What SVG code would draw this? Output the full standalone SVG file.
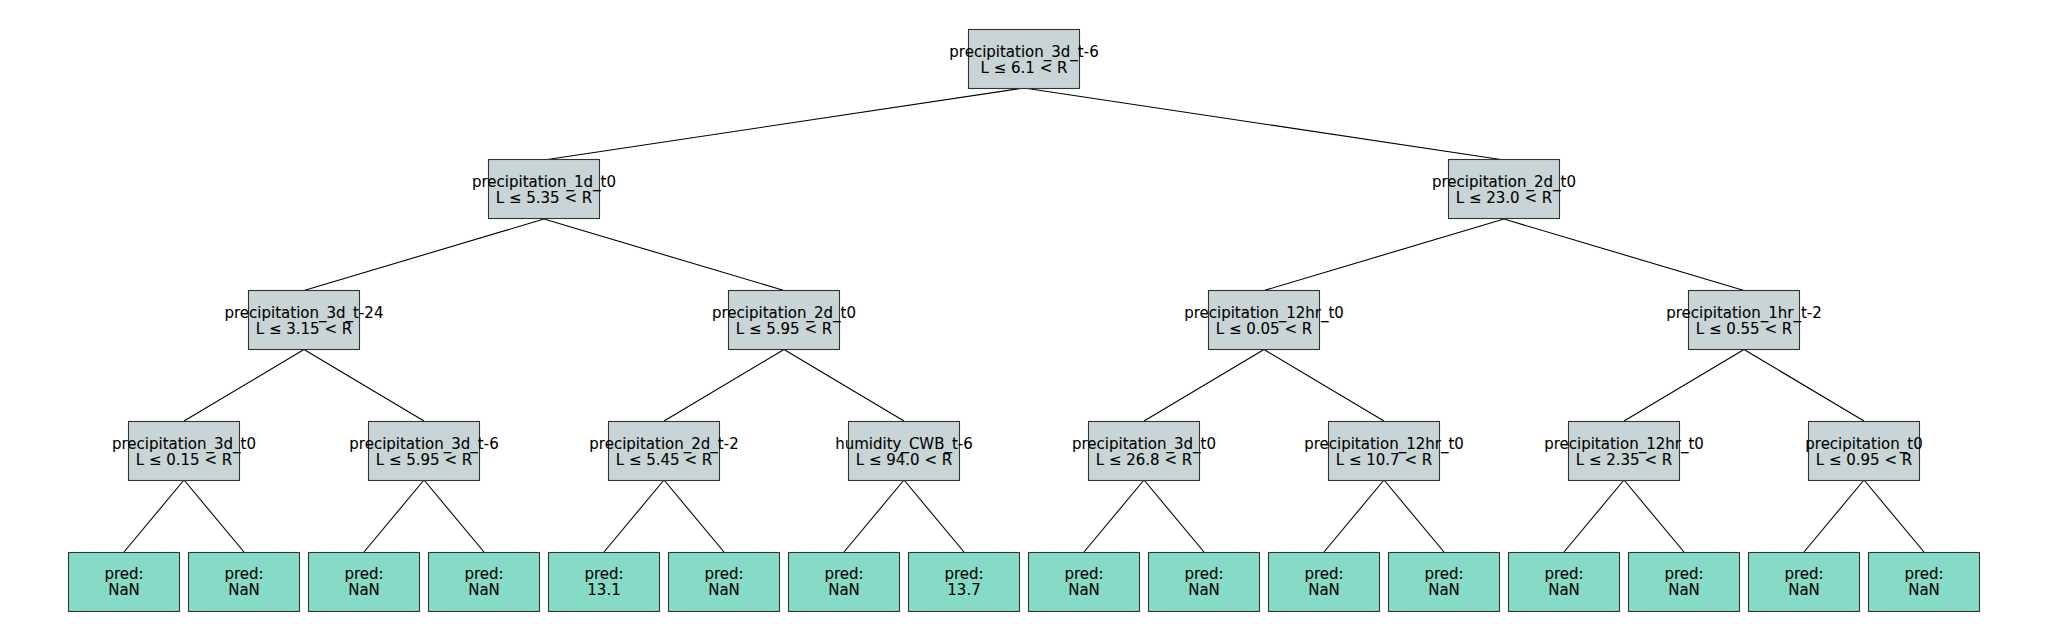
<svg xmlns="http://www.w3.org/2000/svg" width="2048" height="640" viewBox="0 0 2048 640">
<style>
.s{fill:#c8d4d5;stroke:#333;stroke-width:1.1}
.l{fill:#86dbc6;stroke:#333;stroke-width:1.1}
text{font-family:"DejaVu Sans",sans-serif;font-size:15px;fill:#000;stroke:#000;stroke-width:0.08;text-anchor:middle}
#edges line{stroke:#000;stroke-width:1.1}
</style>
<rect width="2048" height="640" fill="#fff"/>
<g id="edges">
<line x1="1024" y1="88" x2="544" y2="160"/>
<line x1="1024" y1="88" x2="1504" y2="160"/>
<line x1="544" y1="219" x2="304" y2="290.5"/>
<line x1="544" y1="219" x2="784" y2="290.5"/>
<line x1="1504" y1="219" x2="1264" y2="290.5"/>
<line x1="1504" y1="219" x2="1744" y2="290.5"/>
<line x1="304" y1="349.5" x2="184" y2="421"/>
<line x1="304" y1="349.5" x2="424" y2="421"/>
<line x1="784" y1="349.5" x2="664" y2="421"/>
<line x1="784" y1="349.5" x2="904" y2="421"/>
<line x1="1264" y1="349.5" x2="1144" y2="421"/>
<line x1="1264" y1="349.5" x2="1384" y2="421"/>
<line x1="1744" y1="349.5" x2="1624" y2="421"/>
<line x1="1744" y1="349.5" x2="1864" y2="421"/>
<line x1="184" y1="480" x2="124" y2="552"/>
<line x1="184" y1="480" x2="244" y2="552"/>
<line x1="424" y1="480" x2="364" y2="552"/>
<line x1="424" y1="480" x2="484" y2="552"/>
<line x1="664" y1="480" x2="604" y2="552"/>
<line x1="664" y1="480" x2="724" y2="552"/>
<line x1="904" y1="480" x2="844" y2="552"/>
<line x1="904" y1="480" x2="964" y2="552"/>
<line x1="1144" y1="480" x2="1084" y2="552"/>
<line x1="1144" y1="480" x2="1204" y2="552"/>
<line x1="1384" y1="480" x2="1324" y2="552"/>
<line x1="1384" y1="480" x2="1444" y2="552"/>
<line x1="1624" y1="480" x2="1564" y2="552"/>
<line x1="1624" y1="480" x2="1684" y2="552"/>
<line x1="1864" y1="480" x2="1804" y2="552"/>
<line x1="1864" y1="480" x2="1924" y2="552"/>
</g>
<g id="n0"><rect class="s" x="968.5" y="29.5" width="111" height="59"/><text x="1024" y="56.6">precipitation_3d_t-6</text><text x="1024" y="72.5">L ≤ 6.1 &lt; R</text></g>
<g id="n1"><rect class="s" x="488.5" y="159.5" width="111" height="59"/><text x="544" y="187.1">precipitation_1d_t0</text><text x="544" y="203">L ≤ 5.35 &lt; R</text></g>
<g id="n2"><rect class="s" x="1448.5" y="159.5" width="111" height="59"/><text x="1504" y="187.1">precipitation_2d_t0</text><text x="1504" y="203">L ≤ 23.0 &lt; R</text></g>
<g id="n3"><rect class="s" x="248.5" y="290.5" width="111" height="59"/><text x="304" y="317.8">precipitation_3d_t-24</text><text x="304" y="333.7">L ≤ 3.15 &lt; R</text></g>
<g id="n4"><rect class="s" x="728.5" y="290.5" width="111" height="59"/><text x="784" y="317.8">precipitation_2d_t0</text><text x="784" y="333.7">L ≤ 5.95 &lt; R</text></g>
<g id="n5"><rect class="s" x="1208.5" y="290.5" width="111" height="59"/><text x="1264" y="317.8">precipitation_12hr_t0</text><text x="1264" y="333.7">L ≤ 0.05 &lt; R</text></g>
<g id="n6"><rect class="s" x="1688.5" y="290.5" width="111" height="59"/><text x="1744" y="317.8">precipitation_1hr_t-2</text><text x="1744" y="333.7">L ≤ 0.55 &lt; R</text></g>
<g id="n7"><rect class="s" x="128.5" y="421.5" width="111" height="59"/><text x="184" y="448.6">precipitation_3d_t0</text><text x="184" y="464.5">L ≤ 0.15 &lt; R</text></g>
<g id="n8"><rect class="s" x="368.5" y="421.5" width="111" height="59"/><text x="424" y="448.6">precipitation_3d_t-6</text><text x="424" y="464.5">L ≤ 5.95 &lt; R</text></g>
<g id="n9"><rect class="s" x="608.5" y="421.5" width="111" height="59"/><text x="664" y="448.6">precipitation_2d_t-2</text><text x="664" y="464.5">L ≤ 5.45 &lt; R</text></g>
<g id="n10"><rect class="s" x="848.5" y="421.5" width="111" height="59"/><text x="904" y="448.6">humidity_CWB_t-6</text><text x="904" y="464.5">L ≤ 94.0 &lt; R</text></g>
<g id="n11"><rect class="s" x="1088.5" y="421.5" width="111" height="59"/><text x="1144" y="448.6">precipitation_3d_t0</text><text x="1144" y="464.5">L ≤ 26.8 &lt; R</text></g>
<g id="n12"><rect class="s" x="1328.5" y="421.5" width="111" height="59"/><text x="1384" y="448.6">precipitation_12hr_t0</text><text x="1384" y="464.5">L ≤ 10.7 &lt; R</text></g>
<g id="n13"><rect class="s" x="1568.5" y="421.5" width="111" height="59"/><text x="1624" y="448.6">precipitation_12hr_t0</text><text x="1624" y="464.5">L ≤ 2.35 &lt; R</text></g>
<g id="n14"><rect class="s" x="1808.5" y="421.5" width="111" height="59"/><text x="1864" y="448.6">precipitation_t0</text><text x="1864" y="464.5">L ≤ 0.95 &lt; R</text></g>
<g id="leaf0"><rect class="l" x="68.5" y="552.5" width="111" height="59"/><text x="124" y="579.2">pred:</text><text x="124" y="595">NaN</text></g>
<g id="leaf1"><rect class="l" x="188.5" y="552.5" width="111" height="59"/><text x="244" y="579.2">pred:</text><text x="244" y="595">NaN</text></g>
<g id="leaf2"><rect class="l" x="308.5" y="552.5" width="111" height="59"/><text x="364" y="579.2">pred:</text><text x="364" y="595">NaN</text></g>
<g id="leaf3"><rect class="l" x="428.5" y="552.5" width="111" height="59"/><text x="484" y="579.2">pred:</text><text x="484" y="595">NaN</text></g>
<g id="leaf4"><rect class="l" x="548.5" y="552.5" width="111" height="59"/><text x="604" y="579.2">pred:</text><text x="604" y="595">13.1</text></g>
<g id="leaf5"><rect class="l" x="668.5" y="552.5" width="111" height="59"/><text x="724" y="579.2">pred:</text><text x="724" y="595">NaN</text></g>
<g id="leaf6"><rect class="l" x="788.5" y="552.5" width="111" height="59"/><text x="844" y="579.2">pred:</text><text x="844" y="595">NaN</text></g>
<g id="leaf7"><rect class="l" x="908.5" y="552.5" width="111" height="59"/><text x="964" y="579.2">pred:</text><text x="964" y="595">13.7</text></g>
<g id="leaf8"><rect class="l" x="1028.5" y="552.5" width="111" height="59"/><text x="1084" y="579.2">pred:</text><text x="1084" y="595">NaN</text></g>
<g id="leaf9"><rect class="l" x="1148.5" y="552.5" width="111" height="59"/><text x="1204" y="579.2">pred:</text><text x="1204" y="595">NaN</text></g>
<g id="leaf10"><rect class="l" x="1268.5" y="552.5" width="111" height="59"/><text x="1324" y="579.2">pred:</text><text x="1324" y="595">NaN</text></g>
<g id="leaf11"><rect class="l" x="1388.5" y="552.5" width="111" height="59"/><text x="1444" y="579.2">pred:</text><text x="1444" y="595">NaN</text></g>
<g id="leaf12"><rect class="l" x="1508.5" y="552.5" width="111" height="59"/><text x="1564" y="579.2">pred:</text><text x="1564" y="595">NaN</text></g>
<g id="leaf13"><rect class="l" x="1628.5" y="552.5" width="111" height="59"/><text x="1684" y="579.2">pred:</text><text x="1684" y="595">NaN</text></g>
<g id="leaf14"><rect class="l" x="1748.5" y="552.5" width="111" height="59"/><text x="1804" y="579.2">pred:</text><text x="1804" y="595">NaN</text></g>
<g id="leaf15"><rect class="l" x="1868.5" y="552.5" width="111" height="59"/><text x="1924" y="579.2">pred:</text><text x="1924" y="595">NaN</text></g>
</svg>
